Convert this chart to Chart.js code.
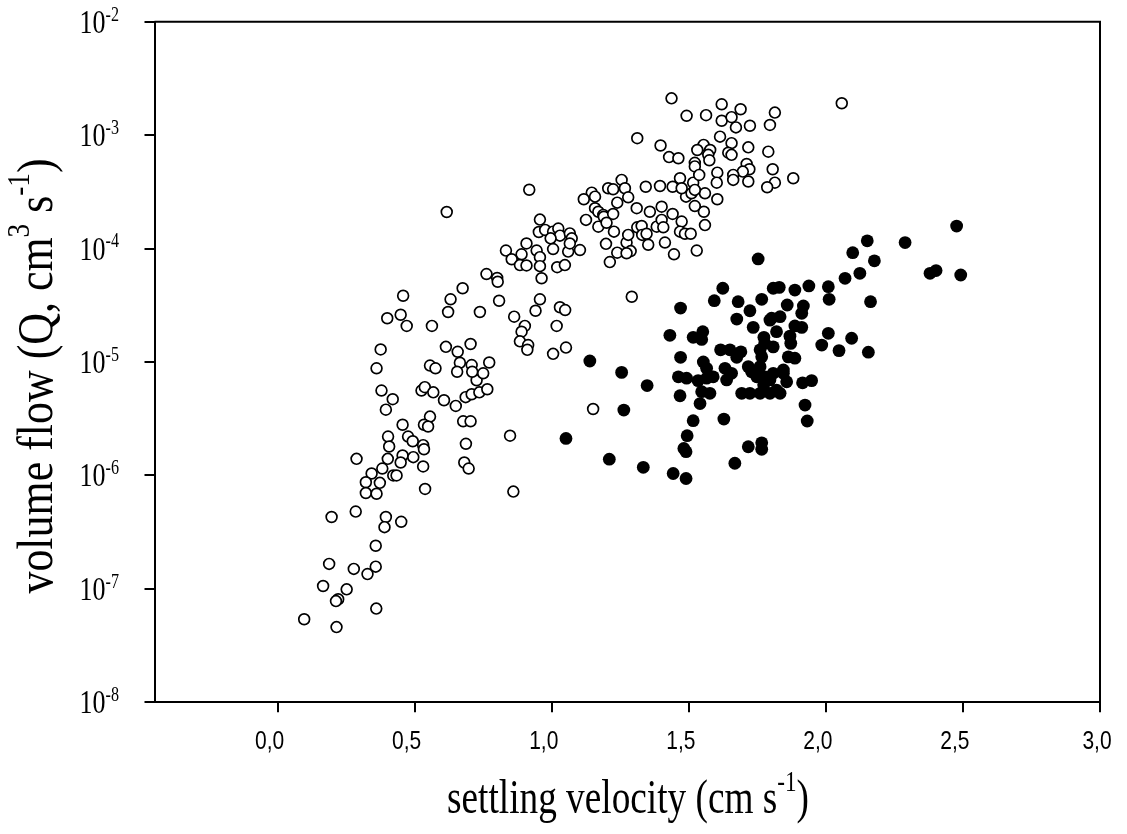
<!DOCTYPE html>
<html><head><meta charset="utf-8">
<script src="https://cdn.jsdelivr.net/npm/chart.js@4"></script>
<style>html,body{margin:0;padding:0;background:#fff}</style>
</head><body>
<canvas id="c" width="1127" height="834"></canvas>
<script>
// ---- data ----
const openVel = [0.379,0.420,0.395,0.525,0.537,0.568,0.607,0.650,0.686,0.708,0.736,0.726,0.556,0.534,0.549,0.456,0.677,0.704,0.687,0.681,0.697,0.403,0.407,0.476,0.493,0.531,0.534,0.456,0.495,0.402,0.449,0.288,0.382,0.343,0.422,0.434,0.531,0.322,0.373,0.322,0.361,0.538,0.197,0.285,0.395,0.390,0.451,0.358,0.188,0.278,0.328,0.358,0.166,0.252,0.221,0.213,0.360,0.097,0.215,
0.918,0.617,0.957,0.953,0.976,1.005,1.024,1.030,1.066,1.073,0.996,0.945,1.005,1.060,0.908,0.890,0.833,0.854,0.884,0.908,0.957,0.957,1.020,1.048,0.963,1.103,1.066,0.762,0.801,0.803,0.675,0.631,0.622,0.458,0.449,0.400,0.471,0.563,0.738,0.808,0.957,0.941,0.863,1.030,1.049,1.018,0.902,0.890,0.884,0.914,0.911,1.005,1.052,0.376,0.361,0.614,0.657,0.704,0.665,0.655,0.708,0.710,0.772,0.750,0.556,0.576,0.765,0.848,0.860,1.151,
1.437,1.312,1.397,1.428,1.462,1.255,1.267,1.206,1.224,1.146,1.158,1.117,1.279,1.239,1.343,1.310,1.358,1.158,1.170,1.188,1.190,1.224,1.125,1.170,1.200,1.227,1.198,1.239,1.212,1.273,1.288,1.279,1.312,1.328,1.330,1.346,1.352,1.383,1.401,1.407,1.413,1.292,1.273,1.395,
2.058,1.492,1.563,1.620,1.689,1.620,1.656,1.672,1.723,1.814,1.796,1.614,1.656,1.717,1.790,1.554,1.531,1.578,1.571,1.575,1.522,1.522,1.644,1.656,1.711,1.721,1.697,1.662,1.662,1.717,1.604,1.602,1.604,1.559,1.555,1.559,1.516,1.538,1.522,1.490,1.468,1.441,1.474,1.510,1.522,1.806,1.814,1.786,1.881,1.401,1.441,1.474,1.468,1.486,1.507,1.446,1.529];
const openFlow = [5.6e-6,4.7e-6,3.8e-6,5.6e-6,6.0e-6,5.4e-6,4.6e-6,4.1e-6,4.9e-6,5.2e-6,5.4e-6,6.9e-6,3.3e-6,2.8e-6,2.7e-6,2.8e-6,3.0e-6,3.0e-6,1.9e-6,1.3e-6,1.15e-6,2.2e-6,1.8e-6,2.2e-6,2.0e-6,1.85e-6,1.7e-6,1.5e-6,1.45e-6,1.4e-6,1.3e-6,1.4e-6,1.15e-6,1.04e-6,1.0e-6,1.0e-6,1.2e-6,8.7e-7,8.6e-7,7.0e-7,6.9e-7,7.6e-7,4.3e-7,4.8e-7,4.3e-7,3.5e-7,3.9e-7,2.4e-7,1.66e-7,1.5e-7,1.35e-7,1.57e-7,1.06e-7,9.9e-8,8.1e-8,7.8e-8,6.7e-8,5.4e-8,4.6e-8,
3.3e-4,2.1e-4,1.8e-4,1.4e-4,1.46e-4,1.41e-4,1.5e-4,1.3e-4,1.36e-4,1.23e-4,1.23e-4,9.6e-5,9.9e-5,9.4e-5,1.11e-4,8.9e-5,9.6e-5,8.05e-5,7.15e-5,7.1e-5,8.4e-5,7.0e-5,6.85e-5,7.15e-5,5.47e-5,9.7e-5,1.11e-4,5.96e-5,5.5e-5,5.1e-5,4.47e-5,3.57e-5,2.76e-5,3.84e-5,2.61e-5,2.43e-5,2.08e-5,2.08e-5,2.76e-5,3.47e-5,3.57e-5,2.83e-5,2.51e-5,3.04e-5,2.87e-5,2.08e-5,2.08e-5,1.85e-5,1.52e-5,1.41e-5,1.28e-5,1.18e-5,1.34e-5,1.29e-5,8.8e-6,1.36e-5,1.23e-5,1.44e-5,9.85e-6,8.2e-6,9.4e-6,8.2e-6,9.9e-6,7.95e-6,9.3e-6,8.8e-6,5.75e-6,2.24e-6,7.2e-7,3.85e-6,
2.11e-3,9.4e-4,8.1e-4,6.4e-4,6.25e-4,4.03e-4,3.4e-4,3.4e-4,3.33e-4,3.11e-4,2.87e-4,2.72e-4,2.83e-4,2.54e-4,3.51e-4,2.27e-4,2.11e-4,2.27e-4,2.11e-4,1.98e-4,1.91e-4,2.02e-4,1.79e-4,1.56e-4,1.69e-4,1.41e-4,1.1e-4,9.2e-5,7.6e-5,1.13e-4,9.5e-5,1.32e-4,1.54e-4,1.58e-4,1.32e-4,1.35e-4,1.08e-4,1.56e-4,1.79e-4,1.54e-4,1.13e-4,3.76e-5,9.1e-5,3.56e-4,
1.91e-3,1.48e-3,1.50e-3,1.87e-3,1.69e-3,1.34e-3,1.44e-3,1.17e-3,1.21e-3,1.58e-3,1.23e-3,9.7e-4,8.5e-4,7.8e-4,7.15e-4,8.2e-4,7.4e-4,7.4e-4,6.7e-4,6.0e-4,5.7e-4,5.3e-4,7.0e-4,6.7e-4,5.57e-4,5.0e-4,4.77e-4,4.46e-4,4.03e-4,3.9e-4,4.67e-4,3.81e-4,2.72e-4,3.07e-4,2.11e-4,1.61e-4,3.81e-4,4.46e-4,2.37e-4,2.87e-4,4.17e-4,3.51e-4,3.4e-4,3.07e-4,3.29e-4,5.0e-4,3.81e-4,3.47e-4,4.17e-4,2.34e-4,2.02e-4,1.73e-4,1.41e-4,1.35e-4,1.35e-4,8.9e-5,9.6e-5];

const filledVel = [1.753,2.098,1.624,2.070,2.124,1.830,1.887,1.938,2.009,1.593,1.680,1.766,1.808,1.723,1.675,1.735,1.796,1.820,1.470,1.431,1.516,1.551,1.547,1.616,1.650,1.690,1.675,1.774,1.760,1.808,1.470,1.553,1.565,1.462,1.492,1.534,1.565,1.589,1.632,1.656,1.638,1.717,1.729,1.748,1.778,1.808,1.547,1.577,1.541,1.693,1.723,1.760,1.796,1.820,1.468,1.139,1.255,1.348,1.263,1.516,1.628,1.494,1.482,1.490,1.717,1.766,1.766,1.668,1.052,1.210,1.334,1.443,1.490,2.477,2.151,2.289,2.177,2.380,2.402,2.492,1.859,1.918,1.912,2.012,2.163,1.802,1.833,1.887,1.912,1.869,1.872,1.863,1.887,1.777,1.766,1.760,1.845,1.857,1.796,1.773,1.833,1.985,2.009,2.048,2.094,2.155,1.915,1.948,1.924,1.932,1.845];
const filledFlow = [8.1e-5,9.2e-5,4.47e-5,5.47e-5,6.05e-5,4.55e-5,4.31e-5,4.68e-5,4.61e-5,3.47e-5,3.4e-5,3.57e-5,4.47e-5,2.83e-5,2.39e-5,2.02e-5,2.34e-5,1.85e-5,2.99e-5,1.72e-5,1.65e-5,1.85e-5,1.58e-5,1.28e-5,1.28e-5,1.23e-5,1.1e-5,1.65e-5,1.28e-5,1.36e-5,1.1e-5,1.0e-5,8.8e-6,7.4e-6,7.2e-6,6.85e-6,7.2e-6,7.4e-6,8.8e-6,7.95e-6,6.95e-6,9.1e-6,8.2e-6,7.4e-6,7.4e-6,7.95e-6,5.47e-6,5.3e-6,4.3e-6,5.3e-6,5.3e-6,5.3e-6,5.3e-6,5.66e-6,5.04e-6,1.02e-5,8.1e-6,6.2e-6,3.77e-6,3.04e-6,3.14e-6,2.24e-6,1.73e-6,1.62e-6,1.79e-6,1.94e-6,1.70e-6,1.28e-6,2.12e-6,1.39e-6,1.18e-6,1.04e-6,9.4e-7,1.58e-4,1.17e-4,1.13e-4,7.8e-5,6.05e-5,6.4e-5,5.85e-5,3.18e-5,3.12e-5,2.69e-5,3.57e-5,3.4e-5,2.43e-5,2.51e-5,2.08e-5,2.02e-5,1.69e-5,1.46e-5,1.11e-5,1.08e-5,1.46e-5,1.11e-5,9.1e-6,8.5e-6,6.7e-6,6.95e-6,6.3e-6,5.3e-6,1.41e-5,1.79e-5,1.26e-5,1.62e-5,1.22e-5,6.55e-6,6.85e-6,4.17e-6,3.02e-6,7.95e-6];

const xTickValues = [0, 0.5, 1.0, 1.5, 2.0, 2.5, 3.0];
const xTickLabels = ['0,0','0,5','1,0','1,5','2,0','2,5','3,0'];
const yTickExponents = [-2, -3, -4, -5, -6, -7, -8];
const yTickBase = '10';
const xTitleParts = [['settling velocity (cm s', 0], ['-1', 1], [')', 0]];
const yTitleParts = [['volume flow (Q, cm', 0], ['3', 1], [' s', 0], ['-1', 1], [')', 0]];

const SERIF = '"Liberation Serif","Times New Roman",serif';
const SANS = '"Liberation Sans",Arial,sans-serif';

function drawRich(ctx, parts, o) {
  ctx.save();
  ctx.translate(o.x, o.y);
  if (o.rotate) ctx.rotate(o.rotate);
  ctx.scale(o.sx || 1, o.sy || 1);
  const big = o.size + 'px ' + o.family;
  const small = (o.size * o.supScale) + 'px ' + o.family;
  const widths = []; let total = 0;
  parts.forEach(([t, s]) => { ctx.font = s ? small : big; const w = ctx.measureText(t).width; widths.push(w); total += w; });
  let cx = o.align === 'center' ? -total / 2 : (o.align === 'right' ? -total : 0);
  ctx.fillStyle = '#000'; ctx.textAlign = 'left'; ctx.textBaseline = 'alphabetic';
  parts.forEach(([t, s], i) => { ctx.font = s ? small : big; ctx.fillText(t, cx, s ? -o.size * o.supRise : 0); cx += widths[i]; });
  ctx.restore();
}

const deco = {
  id: 'deco',
  afterDraw(chart) {
    const ctx = chart.ctx, a = chart.chartArea, xs = chart.scales.x, ys = chart.scales.y;
    ctx.save();
    ctx.strokeStyle = '#000'; ctx.lineWidth = 2;
    ctx.beginPath();
    ctx.moveTo(a.left, a.top); ctx.lineTo(a.right, a.top); ctx.lineTo(a.right, a.bottom);
    ctx.stroke();
    ctx.restore();
    yTickExponents.forEach(e => {
      const py = ys.getPixelForValue(Math.pow(10, e));
      drawRich(ctx, [[yTickBase, 0], [String(e), 1]], {x: 119, y: py + 11, align: 'right', size: 26, family: SERIF, sx: 1, sy: 1.3, supScale: 0.62, supRise: 0.36});
    });
    xTickValues.forEach((v, i) => {
      const px = xs.getPixelForValue(v) + (i === xTickValues.length - 1 ? -3 : -8);
      drawRich(ctx, [[xTickLabels[i], 0]], {x: px, y: 749, align: 'center', size: 21, family: SANS, sx: 1, sy: 1.2, supScale: 1, supRise: 0});
    });
    drawRich(ctx, xTitleParts, {x: 628, y: 813, align: 'center', size: 33, family: SERIF, sx: 1.13, sy: 1.45, supScale: 0.62, supRise: 0.45});
    drawRich(ctx, yTitleParts, {x: 52, y: 376, rotate: -Math.PI / 2, align: 'center', size: 36, family: SERIF, sx: 1.22, sy: 1.4, supScale: 0.62, supRise: 0.45});
  }
};

const pts = (xa, ya) => xa.map((v, i) => ({x: v, y: ya[i]}));

new Chart(document.getElementById('c'), {
  type: 'scatter',
  data: {
    datasets: [
      {label: 'open', data: pts(openVel, openFlow), pointRadius: 5.4, pointBackgroundColor: '#fff', pointBorderColor: '#000', pointBorderWidth: 1.7},
      {label: 'filled', data: pts(filledVel, filledFlow), pointRadius: 6.4, pointBackgroundColor: '#000', pointBorderColor: '#000', pointBorderWidth: 0}
    ]
  },
  options: {
    responsive: false, animation: false, devicePixelRatio: 1,
    layout: {padding: {left: 0, right: 27, top: 21.7, bottom: 0}},
    plugins: {legend: {display: false}, tooltip: {enabled: false}},
    scales: {
      x: {
        type: 'linear', min: -0.449, max: 3.0,
        afterBuildTicks: s => { s.ticks = xTickValues.map(v => ({value: v})); },
        afterFit: s => { s.height = 834 - 702.3; },
        ticks: {display: false},
        grid: {display: true, drawOnChartArea: false, drawTicks: true, tickLength: 10, color: '#000', lineWidth: 2},
        border: {display: true, color: '#000', width: 2}
      },
      y: {
        type: 'logarithmic', min: 1e-8, max: 1e-2,
        afterBuildTicks: s => { s.ticks = yTickExponents.map(e => ({value: Math.pow(10, e)})); },
        afterFit: s => { s.width = 154.5; },
        ticks: {display: false},
        grid: {display: true, drawOnChartArea: false, drawTicks: true, tickLength: 10, color: '#000', lineWidth: 2},
        border: {display: true, color: '#000', width: 2}
      }
    }
  },
  plugins: [deco]
});
</script>
</body></html>
